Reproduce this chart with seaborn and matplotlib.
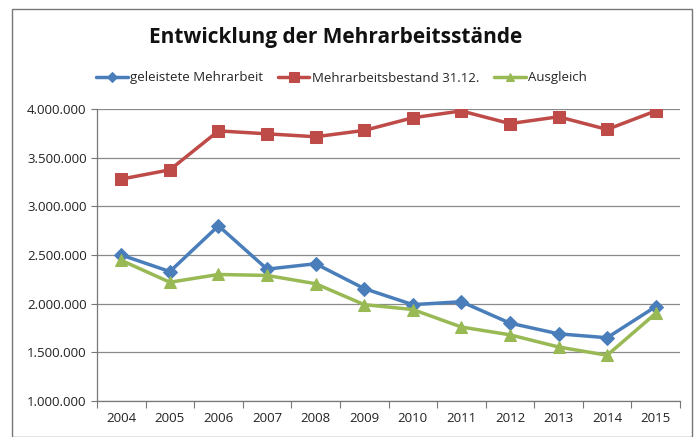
import matplotlib
matplotlib.use("Agg")
import matplotlib.pyplot as plt
import numpy as np
import pandas as pd
import seaborn as sns
from matplotlib.patches import Rectangle
from matplotlib.ticker import FuncFormatter, FixedLocator

sns.set_theme(style="white")
plt.rcParams["font.family"] = ["Open Sans", "DejaVu Sans"]

# Werte
jahre = [2004, 2005, 2006, 2007, 2008, 2009, 2010, 2011, 2012, 2013, 2014, 2015]
geleistete = [2500000, 2330000, 2800000, 2355000, 2410000, 2155000,
              1990000, 2020000, 1800000, 1690000, 1650000, 1970000]
bestand = [3280000, 3375000, 3775000, 3745000, 3715000, 3780000,
           3910000, 3980000, 3850000, 3920000, 3790000, 3980000]
ausgleich = [2445000, 2220000, 2300000, 2290000, 2205000, 1990000,
             1940000, 1760000, 1680000, 1555000, 1470000, 1900000]

serien = ["geleistete Mehrarbeit", "Mehrarbeitsbestand 31.12.", "Ausgleich"]
farben = ["#4A7EBB", "#BE4B48", "#98B954"]
marker = ["D", "s", "^"]
msize = [7, 9, 8.5]

df = pd.DataFrame({
    "pos": list(range(len(jahre))) * 3,
    "wert": geleistete + bestand + ausgleich,
    "serie": np.repeat(serien, len(jahre)),
})

fig = plt.figure(figsize=(6.98, 4.37), dpi=100)
ax = fig.add_axes([97 / 698, 1 - 401 / 437, 583 / 698, 292 / 437])

for s, c, m, ms in zip(serien, farben, marker, msize):
    sub = df[df["serie"] == s]
    sns.lineplot(data=sub, x="pos", y="wert", ax=ax, color=c, linewidth=2.5,
                 marker=m, markersize=ms, markeredgecolor=c, label=s)

ax.set_xlim(-0.5, len(jahre) - 0.5)
ax.set_ylim(1000000, 4000000)
ax.set_yticks(np.arange(1000000, 4000001, 500000))
ax.yaxis.set_major_formatter(FuncFormatter(lambda v, p: f"{int(v):,}".replace(",", ".")))
ax.set_xticks(range(len(jahre)))
ax.set_xticklabels([str(j) for j in jahre])
ax.xaxis.set_minor_locator(FixedLocator(np.arange(-0.5, len(jahre), 1.0)))
ax.tick_params(axis="x", which="major", length=0, pad=8, labelsize=9.5, colors="#222222")
ax.tick_params(axis="x", which="minor", length=5, width=0.8, color="#777777", direction="out", bottom=True)
ax.tick_params(axis="y", length=4, width=0.8, color="#777777", direction="out", left=True,
               labelsize=9.5, labelcolor="#222222")
ax.grid(axis="y", color="#8a8a8a", linewidth=0.9)
ax.grid(axis="x", visible=False)
ax.set_axisbelow(True)
for side in ["top", "right"]:
    ax.spines[side].set_visible(False)
for side in ["left", "bottom"]:
    ax.spines[side].set_color("#777777")
    ax.spines[side].set_linewidth(0.9)
ax.set_xlabel("")
ax.set_ylabel("")

ax.legend(loc="center left", bbox_to_anchor=(96 / 698, 1 - 78 / 437), bbox_transform=fig.transFigure,
          ncol=3, frameon=False, fontsize=9.5, handlelength=2.4, handletextpad=0.2,
          columnspacing=1.1, markerscale=0.75, borderpad=0, borderaxespad=0)

fig.text(336 / 698, 1 - 38 / 437, "Entwicklung der Mehrarbeitsstände", ha="center", va="center",
         fontsize=15, fontweight="bold", color="#111111")

fig.patches.append(Rectangle((12 / 698, 0), 680 / 698, 1 - 9 / 437, transform=fig.transFigure,
                             fill=False, edgecolor="#777777", linewidth=1.0))

fig.savefig("out.png", dpi=100, facecolor="white")
